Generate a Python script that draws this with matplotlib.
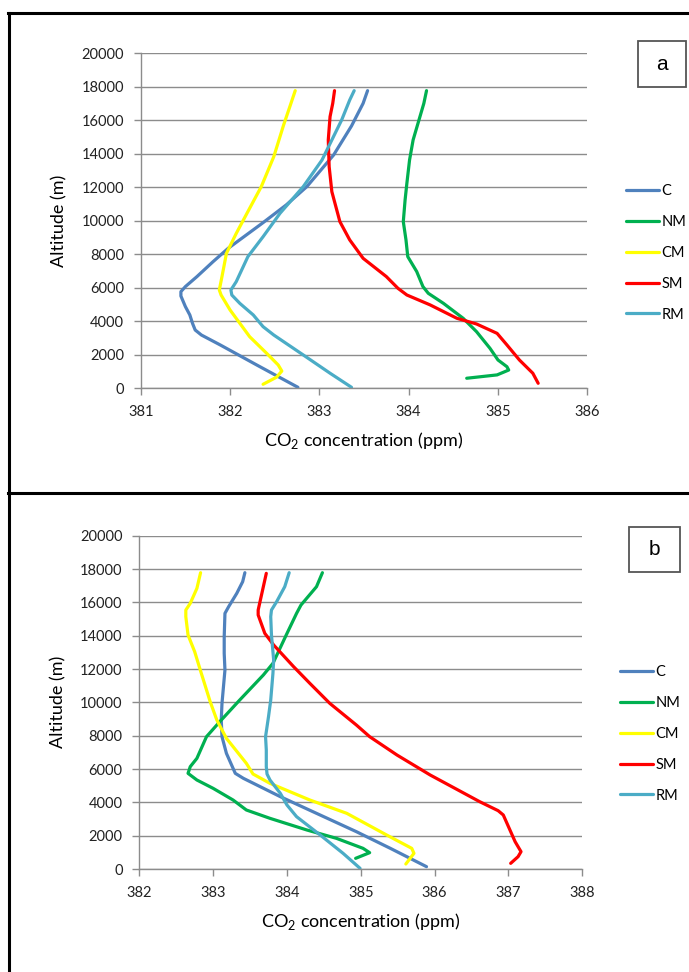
import matplotlib
matplotlib.use("Agg")
import matplotlib.pyplot as plt
from matplotlib.lines import Line2D

plt.rcParams['font.family'] = ['Lato', 'DejaVu Sans']
plt.rcParams['mathtext.fontset'] = 'custom'
plt.rcParams['mathtext.rm'] = 'Lato'

labels = ['C', 'NM', 'CM', 'SM', 'RM']
colors = ['#4F81BD', '#00B050', '#FFFF00', '#FF0000', '#4BACC6']

# ---- Panel a ----
a_C_x = [382.76, 382.30, 381.89, 381.68, 381.61, 381.58, 381.55, 381.50, 381.45, 381.45, 381.50, 381.63, 381.81, 381.98, 382.37, 382.63, 382.86, 383.16, 383.36, 383.49, 383.54]
a_C_y = [60, 1390, 2590, 3180, 3480, 3880, 4380, 4880, 5510, 5770, 6070, 6670, 7560, 8360, 9890, 10950, 12040, 13930, 15660, 17010, 17770]
a_NM_x = [384.65, 384.99, 385.12, 385.10, 385.00, 384.91, 384.76, 384.61, 384.39, 384.22, 384.16, 384.09, 383.99, 383.97, 383.94, 383.96, 383.98, 384.01, 384.05, 384.11, 384.17, 384.20]
a_NM_y = [600, 800, 1090, 1290, 1690, 2390, 3380, 4180, 5070, 5670, 6070, 6970, 7860, 8860, 9950, 11240, 12240, 13630, 14830, 15920, 17010, 17770]
a_CM_x = [382.37, 382.52, 382.58, 382.54, 382.41, 382.22, 382.11, 382.00, 381.90, 381.88, 381.91, 381.96, 382.07, 382.19, 382.35, 382.49, 382.60, 382.67, 382.73]
a_CM_y = [240, 660, 1030, 1390, 2090, 3080, 3880, 4680, 5570, 5870, 6670, 8060, 9250, 10450, 12040, 13830, 15720, 16820, 17770]
a_SM_x = [385.45, 385.39, 385.24, 385.10, 384.99, 384.76, 384.54, 384.24, 383.98, 383.88, 383.75, 383.49, 383.34, 383.23, 383.14, 383.11, 383.10, 383.12, 383.15, 383.17]
a_SM_y = [300, 900, 1690, 2590, 3280, 3840, 4180, 4980, 5570, 5970, 6670, 7760, 8860, 9950, 11740, 13230, 14830, 16220, 17010, 17770]
a_RM_x = [383.36, 383.12, 382.82, 382.49, 382.37, 382.26, 382.11, 382.02, 382.01, 382.07, 382.20, 382.37, 382.56, 382.82, 383.03, 383.25, 383.34, 383.39]
a_RM_y = [60, 900, 1990, 3180, 3680, 4380, 5070, 5570, 5870, 6370, 7860, 9050, 10450, 12040, 13630, 16020, 17210, 17770]

# ---- Panel b ----
b_C_x = [385.89, 385.40, 384.94, 384.40, 383.91, 383.41, 383.30, 383.26, 383.18, 383.12, 383.11, 383.12, 383.14, 383.16, 383.15, 383.15, 383.16, 383.21, 383.32, 383.40, 383.43]
b_C_y = [140, 1240, 2240, 3340, 4340, 5440, 5740, 6140, 6940, 7940, 8940, 9940, 10940, 11940, 12940, 13940, 15340, 15740, 16540, 17240, 17780]
b_NM_x = [384.93, 385.12, 385.03, 384.67, 384.27, 383.77, 383.45, 383.27, 383.00, 382.78, 382.66, 382.69, 382.78, 382.91, 383.09, 383.36, 383.68, 383.81, 383.99, 384.13, 384.19, 384.40, 384.48]
b_NM_y = [640, 980, 1240, 1840, 2340, 3040, 3540, 4140, 4840, 5340, 5740, 6140, 6640, 7940, 8840, 10140, 11640, 12340, 14040, 15340, 15840, 16940, 17780]
b_CM_x = [385.61, 385.72, 385.69, 385.35, 384.81, 384.31, 383.77, 383.54, 383.45, 383.18, 383.05, 382.96, 382.84, 382.75, 382.66, 382.63, 382.63, 382.69, 382.78, 382.83]
b_CM_y = [300, 940, 1240, 2040, 3340, 4140, 5140, 5700, 6340, 7840, 8940, 10040, 11740, 13040, 14040, 15140, 15540, 15940, 16840, 17780]
b_SM_x = [387.03, 387.13, 387.17, 387.09, 387.00, 386.93, 386.86, 386.61, 385.94, 385.49, 385.12, 384.94, 384.58, 384.31, 384.09, 383.82, 383.70, 383.61, 383.61, 383.66, 383.72]
b_SM_y = [340, 740, 1040, 1640, 2540, 3240, 3500, 4040, 5640, 6840, 7940, 8640, 9940, 11140, 12140, 13440, 14140, 15240, 15540, 16540, 17740]
b_RM_x = [384.99, 384.76, 384.45, 384.13, 384.00, 383.91, 383.77, 383.73, 383.72, 383.72, 383.71, 383.75, 383.78, 383.81, 383.82, 383.79, 383.78, 383.79, 383.86, 383.97, 384.03]
b_RM_y = [40, 940, 2040, 3140, 3840, 4540, 5340, 5700, 6140, 7140, 7940, 9140, 10140, 11740, 12540, 14040, 15140, 15540, 16040, 16940, 17780]

y_ticks = list(range(0, 20001, 2000))
a_xticks = [381, 382, 383, 384, 385, 386]
b_xticks = [382, 383, 384, 385, 386, 387, 388]

W, H = 689, 972
fig = plt.figure(figsize=(W / 100, H / 100), dpi=100)

def fx(px):
    return px / W

def fy(py):
    return 1 - py / H

# outer frame lines
for (x0, y0, x1, y1) in [(9, 13, 9, 972), (8, 13, 689, 13), (8, 493, 689, 493)]:
    fig.add_artist(Line2D([fx(x0), fx(x1)], [fy(y0), fy(y1)], color='black', lw=2.2,
                          transform=fig.transFigure))

def panel(rect, series, xticks, letter, box, legend_xy):
    ax = fig.add_axes(rect)
    for (xs, ys), lab, c in zip(series, labels, colors):
        ax.plot(xs, ys, color=c, lw=2.3, label=lab, solid_capstyle='round', solid_joinstyle='round')
    ax.set_xlim(xticks[0], xticks[-1])
    ax.set_ylim(0, 20000)
    ax.set_xticks(xticks)
    ax.set_yticks(y_ticks)
    ax.yaxis.grid(True, color='#8c8c8c', lw=1)
    ax.set_axisbelow(True)
    for s in ['top', 'right']:
        ax.spines[s].set_visible(False)
    for s in ['left', 'bottom']:
        ax.spines[s].set_color('#8c8c8c')
        ax.spines[s].set_linewidth(1)
    ax.tick_params(direction='out', length=5, width=1, color='#8c8c8c', labelsize=10.5,
                   labelcolor='#222222', pad=7)
    ax.set_ylabel('Altitude (m)', fontsize=13, labelpad=10)
    ax.set_xlabel(r'CO$_\mathregular{2}$ concentration (ppm)', fontsize=13, labelpad=8)
    ax.legend(loc='center left', bbox_to_anchor=legend_xy, bbox_transform=fig.transFigure,
              frameon=False, fontsize=10.5, handlelength=2.3, handletextpad=0.15,
              labelspacing=1.15, borderaxespad=0)
    x0, y0, x1, y1 = box
    fig.text(fx((x0 + x1) / 2), fy((y0 + y1) / 2), letter, ha='center', va='center', fontsize=15,
             family=['Liberation Sans', 'DejaVu Sans'])
    fig.add_artist(plt.Rectangle((fx(x0), fy(y1)), fx(x1 - x0), (y1 - y0) / H, fill=False,
                                 edgecolor='#555555', lw=1.3, transform=fig.transFigure))
    return ax

panel([fx(140.7), fy(388.3), fx(587.3 - 140.7), (388.3 - 53.3) / H],
      [(a_C_x, a_C_y), (a_NM_x, a_NM_y), (a_CM_x, a_CM_y), (a_SM_x, a_SM_y), (a_RM_x, a_RM_y)],
      a_xticks, 'a', (638, 41, 686, 87), (fx(620), fy(253)))

panel([fx(139.3), fy(869), fx(582.3 - 139.3), (869 - 535.7) / H],
      [(b_C_x, b_C_y), (b_NM_x, b_NM_y), (b_CM_x, b_CM_y), (b_SM_x, b_SM_y), (b_RM_x, b_RM_y)],
      b_xticks, 'b', (629, 527, 680, 572), (fx(614), fy(734)))

fig.savefig('out.png', dpi=100)
